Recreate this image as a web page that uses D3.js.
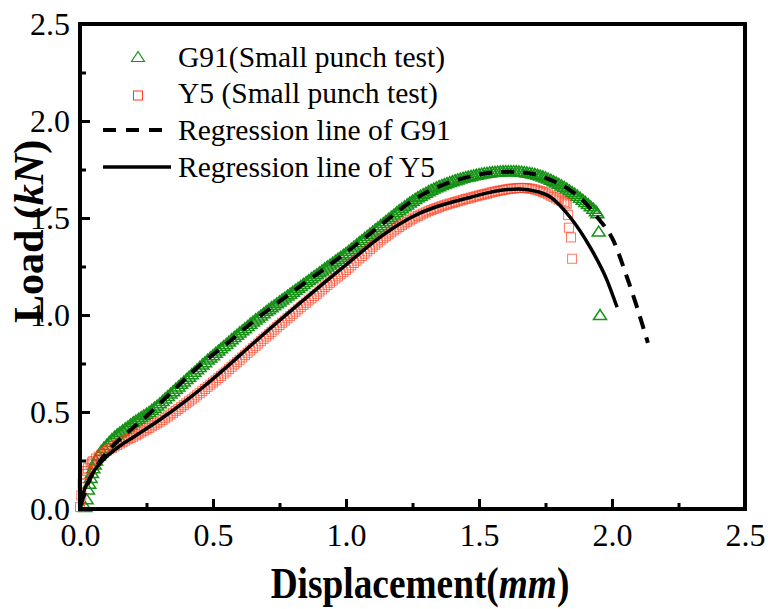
<!DOCTYPE html>
<html>
<head>
<meta charset="utf-8">
<script src="https://cdn.jsdelivr.net/npm/d3@7"></script>
<style>
  html, body { margin: 0; padding: 0; background: #fff; }
  svg { display: block; }
</style>
</head>
<body>
<svg id="chart" width="768" height="609"></svg>
<script>
// ---------------------------------
// data
// ---------------------------------

var xTicks = [0.0, 0.5, 1.0, 1.5, 2.0, 2.5];
var yTicks = [0.0, 0.5, 1.0, 1.5, 2.0, 2.5];
var xMinor = [0.25, 0.75, 1.25, 1.75, 2.25];
var yMinor = [0.25, 0.75, 1.25, 1.75, 2.25];

var legendLabels = ['G91(Small punch test)', 'Y5 (Small punch test)', 'Regression line of G91', 'Regression line of Y5'];

// G91 small punch test, [displacement mm, load kN]
var g91Test = [
  [0.020, 0.010], [0.025, 0.050], [0.030, 0.100], [0.035, 0.130], [0.040, 0.160], [0.045, 0.185],
  [0.050, 0.210], [0.055, 0.230], [0.060, 0.250], [0.070, 0.276], [0.080, 0.300], [0.090, 0.316],
  [0.100, 0.330], [0.110, 0.346], [0.120, 0.360], [0.130, 0.373], [0.140, 0.385], [0.150, 0.395],
  [0.160, 0.405], [0.170, 0.415], [0.180, 0.425], [0.190, 0.436], [0.200, 0.447], [0.210, 0.456],
  [0.220, 0.465], [0.230, 0.474], [0.240, 0.483], [0.250, 0.491], [0.260, 0.500], [0.270, 0.511],
  [0.280, 0.522], [0.290, 0.533], [0.300, 0.545], [0.310, 0.557], [0.320, 0.570], [0.330, 0.582],
  [0.340, 0.595], [0.350, 0.607], [0.360, 0.620], [0.370, 0.632], [0.380, 0.645], [0.390, 0.657],
  [0.400, 0.670], [0.410, 0.682], [0.420, 0.695], [0.430, 0.707], [0.440, 0.720], [0.450, 0.732],
  [0.460, 0.745], [0.470, 0.757], [0.480, 0.770], [0.490, 0.781], [0.500, 0.793], [0.510, 0.805],
  [0.520, 0.817], [0.530, 0.828], [0.540, 0.840], [0.550, 0.851], [0.560, 0.863], [0.570, 0.875],
  [0.580, 0.887], [0.590, 0.898], [0.600, 0.910], [0.610, 0.921], [0.620, 0.932], [0.630, 0.943],
  [0.640, 0.955], [0.650, 0.966], [0.660, 0.977], [0.670, 0.987], [0.680, 0.998], [0.690, 1.009],
  [0.700, 1.020], [0.710, 1.030], [0.720, 1.040], [0.730, 1.050], [0.740, 1.060], [0.750, 1.070],
  [0.760, 1.080], [0.770, 1.090], [0.780, 1.100], [0.790, 1.110], [0.800, 1.120], [0.810, 1.130],
  [0.820, 1.140], [0.830, 1.150], [0.840, 1.160], [0.850, 1.170], [0.860, 1.180], [0.870, 1.190],
  [0.880, 1.200], [0.890, 1.210], [0.900, 1.220], [0.910, 1.230], [0.920, 1.240], [0.930, 1.250],
  [0.940, 1.260], [0.950, 1.270], [0.960, 1.280], [0.970, 1.290], [0.980, 1.300], [0.990, 1.310],
  [1.000, 1.320], [1.010, 1.331], [1.020, 1.342], [1.030, 1.353], [1.040, 1.364], [1.050, 1.375],
  [1.060, 1.386], [1.070, 1.397], [1.080, 1.408], [1.090, 1.419], [1.100, 1.430], [1.110, 1.441],
  [1.120, 1.452], [1.130, 1.463], [1.140, 1.474], [1.150, 1.485], [1.160, 1.496], [1.170, 1.507],
  [1.180, 1.518], [1.190, 1.529], [1.200, 1.540], [1.210, 1.550], [1.220, 1.560], [1.230, 1.570],
  [1.240, 1.580], [1.250, 1.589], [1.260, 1.598], [1.270, 1.607], [1.280, 1.615], [1.290, 1.623],
  [1.300, 1.630], [1.310, 1.638], [1.320, 1.645], [1.330, 1.652], [1.340, 1.658], [1.350, 1.664],
  [1.360, 1.670], [1.370, 1.675], [1.380, 1.680], [1.390, 1.685], [1.400, 1.690], [1.410, 1.695],
  [1.420, 1.699], [1.430, 1.703], [1.440, 1.707], [1.450, 1.711], [1.460, 1.714], [1.470, 1.717],
  [1.480, 1.720], [1.490, 1.723], [1.500, 1.726], [1.510, 1.729], [1.520, 1.731], [1.530, 1.733],
  [1.540, 1.735], [1.550, 1.737], [1.560, 1.738], [1.570, 1.739], [1.580, 1.740], [1.590, 1.741],
  [1.600, 1.742], [1.610, 1.742], [1.620, 1.742], [1.630, 1.742], [1.640, 1.741], [1.650, 1.740],
  [1.660, 1.739], [1.670, 1.737], [1.680, 1.735], [1.690, 1.733], [1.700, 1.730], [1.710, 1.727],
  [1.720, 1.723], [1.730, 1.719], [1.740, 1.714], [1.750, 1.709], [1.760, 1.703], [1.770, 1.697],
  [1.780, 1.690], [1.790, 1.683], [1.800, 1.676], [1.810, 1.668], [1.820, 1.660], [1.830, 1.652],
  [1.840, 1.643], [1.850, 1.634], [1.860, 1.625], [1.870, 1.615], [1.880, 1.605], [1.890, 1.594],
  [1.900, 1.583], [1.910, 1.572], [1.920, 1.560], [1.930, 1.548], [1.940, 1.535], [1.945, 1.525],
  [1.950, 1.430], [1.955, 1.000]
];

// Y5 small punch test
var y5Test = [
  [0.000, 0.010], [0.005, 0.070], [0.010, 0.130], [0.015, 0.158], [0.020, 0.180], [0.025, 0.196],
  [0.030, 0.210], [0.040, 0.230], [0.045, 0.240], [0.050, 0.247], [0.060, 0.260], [0.070, 0.270],
  [0.080, 0.280], [0.090, 0.290], [0.100, 0.300], [0.110, 0.308], [0.120, 0.315], [0.130, 0.323],
  [0.140, 0.330], [0.150, 0.338], [0.160, 0.345], [0.170, 0.352], [0.180, 0.360], [0.190, 0.366],
  [0.200, 0.373], [0.210, 0.380], [0.220, 0.388], [0.230, 0.395], [0.240, 0.403], [0.250, 0.410],
  [0.260, 0.418], [0.270, 0.426], [0.280, 0.434], [0.290, 0.442], [0.300, 0.450], [0.310, 0.459],
  [0.320, 0.468], [0.330, 0.477], [0.340, 0.487], [0.350, 0.496], [0.360, 0.506], [0.370, 0.515],
  [0.380, 0.525], [0.390, 0.535], [0.400, 0.545], [0.410, 0.555], [0.420, 0.565], [0.430, 0.575],
  [0.440, 0.586], [0.450, 0.597], [0.460, 0.608], [0.470, 0.619], [0.480, 0.630], [0.490, 0.641],
  [0.500, 0.652], [0.510, 0.663], [0.520, 0.675], [0.530, 0.686], [0.540, 0.698], [0.550, 0.709],
  [0.560, 0.721], [0.570, 0.733], [0.580, 0.745], [0.590, 0.757], [0.600, 0.769], [0.610, 0.781],
  [0.620, 0.793], [0.630, 0.805], [0.640, 0.817], [0.650, 0.829], [0.660, 0.841], [0.670, 0.853],
  [0.680, 0.865], [0.690, 0.877], [0.700, 0.889], [0.710, 0.901], [0.720, 0.913], [0.730, 0.925],
  [0.740, 0.937], [0.750, 0.948], [0.760, 0.960], [0.770, 0.971], [0.780, 0.983], [0.790, 0.994],
  [0.800, 1.006], [0.810, 1.017], [0.820, 1.029], [0.830, 1.040], [0.840, 1.052], [0.850, 1.063],
  [0.860, 1.075], [0.870, 1.086], [0.880, 1.098], [0.890, 1.109], [0.900, 1.121], [0.910, 1.132],
  [0.920, 1.144], [0.930, 1.155], [0.940, 1.166], [0.950, 1.177], [0.960, 1.188], [0.970, 1.199],
  [0.980, 1.210], [0.990, 1.221], [1.000, 1.232], [1.010, 1.244], [1.020, 1.256], [1.030, 1.268],
  [1.040, 1.280], [1.050, 1.292], [1.060, 1.304], [1.070, 1.316], [1.080, 1.328], [1.090, 1.340],
  [1.100, 1.352], [1.110, 1.363], [1.120, 1.374], [1.130, 1.385], [1.140, 1.396], [1.150, 1.406],
  [1.160, 1.416], [1.170, 1.426], [1.180, 1.436], [1.190, 1.445], [1.200, 1.454], [1.210, 1.463],
  [1.220, 1.472], [1.230, 1.480], [1.240, 1.488], [1.250, 1.496], [1.260, 1.503], [1.270, 1.510],
  [1.280, 1.517], [1.290, 1.523], [1.300, 1.529], [1.310, 1.535], [1.320, 1.541], [1.330, 1.546],
  [1.340, 1.551], [1.350, 1.556], [1.360, 1.561], [1.370, 1.566], [1.380, 1.570], [1.390, 1.574],
  [1.400, 1.578], [1.410, 1.582], [1.420, 1.586], [1.430, 1.590], [1.440, 1.594], [1.450, 1.598],
  [1.460, 1.601], [1.470, 1.605], [1.480, 1.609], [1.490, 1.612], [1.500, 1.616], [1.510, 1.619],
  [1.520, 1.623], [1.530, 1.626], [1.540, 1.630], [1.550, 1.633], [1.560, 1.636], [1.570, 1.639],
  [1.580, 1.642], [1.590, 1.644], [1.600, 1.647], [1.610, 1.649], [1.620, 1.651], [1.630, 1.652],
  [1.640, 1.654], [1.650, 1.655], [1.660, 1.655], [1.670, 1.655], [1.680, 1.654], [1.690, 1.652],
  [1.700, 1.650], [1.710, 1.647], [1.720, 1.643], [1.730, 1.639], [1.740, 1.634], [1.750, 1.628],
  [1.760, 1.622], [1.770, 1.615], [1.780, 1.608], [1.790, 1.601], [1.800, 1.595], [1.810, 1.588],
  [1.820, 1.582], [1.825, 1.576], [1.830, 1.570], [1.835, 1.515], [1.838, 1.450], [1.846, 1.400],
  [1.850, 1.290]
];

// regression line of G91 (dashed)
var g91Fit = [
  [0.003, 0.020], [0.030, 0.130], [0.063, 0.220], [0.113, 0.310], [0.175, 0.390], [0.263, 0.495],
  [0.350, 0.610], [0.450, 0.740], [0.550, 0.850], [0.650, 0.965], [0.750, 1.070], [0.850, 1.170],
  [0.950, 1.270], [1.050, 1.375], [1.150, 1.485], [1.250, 1.590], [1.350, 1.663], [1.450, 1.708],
  [1.550, 1.734], [1.617, 1.738], [1.700, 1.728], [1.780, 1.690], [1.842, 1.644], [1.900, 1.578],
  [1.944, 1.505], [2.004, 1.387], [2.056, 1.196], [2.094, 1.040], [2.135, 0.856]
];

// regression line of Y5 (solid)
var y5Fit = [
  [0.000, 0.000], [0.010, 0.070], [0.030, 0.140], [0.050, 0.190], [0.100, 0.270], [0.150, 0.325],
  [0.200, 0.370], [0.300, 0.460], [0.400, 0.560], [0.460, 0.625], [0.550, 0.730], [0.640, 0.840],
  [0.740, 0.960], [0.830, 1.065], [0.930, 1.180], [1.015, 1.275], [1.100, 1.372], [1.200, 1.468],
  [1.280, 1.526], [1.340, 1.558], [1.466, 1.606], [1.560, 1.638], [1.650, 1.650], [1.720, 1.636],
  [1.767, 1.610], [1.842, 1.505], [1.917, 1.351], [1.981, 1.180], [2.019, 1.040]
];

var GREEN = '#169216';
var RED = '#ff3c1c';
var SERIF = '"Liberation Serif", "Times New Roman", serif';

var svg = d3.select('#chart');

var x = d3.scaleLinear().domain([0, 2.5]).range([80, 745]);
var y = d3.scaleLinear().domain([0, 2.5]).range([509, 24]);

var triangle = 'M0,-5.5L6.5,4.5L-6.5,4.5Z';

// ---------
// the marks
// ---------

var marks = svg.append('g').attr('class', 'marks');

marks.append('g').selectAll('path')
  .data(g91Test)
  .enter().append('path')
  .attr('d', triangle)
  .attr('transform', function (d) {
    return 'translate(' + x(d[0]) + ',' + y(d[1]) + ')';
  })
  .attr('fill', 'none')
  .attr('stroke', GREEN)
  .attr('stroke-width', 1.5);

marks.append('g').selectAll('rect')
  .data(y5Test)
  .enter().append('rect')
  .attr('x', function (d) { return x(d[0]) - 4.5; })
  .attr('y', function (d) { return y(d[1]) - 4.5; })
  .attr('width', 9)
  .attr('height', 9)
  .attr('fill', 'none')
  .attr('stroke', RED)
  .attr('stroke-opacity', 0.7)
  .attr('stroke-width', 1);

var line = d3.line()
  .x(function (d) { return x(d[0]); })
  .y(function (d) { return y(d[1]); })
  .curve(d3.curveMonotoneX);

marks.append('path')
  .attr('d', line(g91Fit))
  .attr('fill', 'none')
  .attr('stroke', '#000')
  .attr('stroke-width', 4)
  .attr('stroke-dasharray', '13,9');

marks.append('path')
  .attr('d', line(y5Fit))
  .attr('fill', 'none')
  .attr('stroke', '#000')
  .attr('stroke-width', 3.5);

// ----
// axes
// ----

var styleAxis = function (g) {
  g.select('.domain').remove();
  g.selectAll('.tick line').attr('stroke', '#000').attr('stroke-width', 3);
  g.selectAll('.tick text')
    .attr('fill', '#000')
    .style('font-family', SERIF)
    .style('font-size', '32px');
};

svg.append('g')
  .attr('transform', 'translate(0,509)')
  .call(d3.axisBottom(x).tickValues(xMinor).tickSize(-6).tickSizeOuter(0).tickFormat(''))
  .call(styleAxis);

svg.append('g')
  .attr('transform', 'translate(0,509)')
  .call(d3.axisBottom(x).tickValues(xTicks).tickSize(-10).tickSizeOuter(0).tickPadding(14).tickFormat(d3.format('.1f')))
  .call(styleAxis)
  .selectAll('.tick text').attr('dy', '0.71em');

svg.append('g')
  .attr('transform', 'translate(80,0)')
  .call(d3.axisLeft(y).tickValues(yMinor).tickSize(-6).tickSizeOuter(0).tickFormat(''))
  .call(styleAxis);

svg.append('g')
  .attr('transform', 'translate(80,0)')
  .call(d3.axisLeft(y).tickValues(yTicks).tickSize(-10).tickSizeOuter(0).tickPadding(10).tickFormat(d3.format('.1f')))
  .call(styleAxis)
  .selectAll('.tick text').attr('dy', '0.34em');

// frame
svg.append('rect')
  .attr('x', x(0))
  .attr('y', y(2.5))
  .attr('width', x(2.5) - x(0))
  .attr('height', y(0) - y(2.5))
  .attr('fill', 'none')
  .attr('stroke', '#000')
  .attr('stroke-width', 4);

// -----------
// axis titles
// -----------

var xTitle = svg.append('text')
  .attr('transform', 'translate(420,598) scale(0.83,1)')
  .attr('text-anchor', 'middle')
  .style('font-family', SERIF)
  .style('font-size', '45px')
  .style('font-weight', 'bold');
xTitle.append('tspan').text('Displacement(');
xTitle.append('tspan').style('font-style', 'italic').text('mm');
xTitle.append('tspan').text(')');

var yTitle = svg.append('text')
  .attr('transform', 'translate(43,323) rotate(-90)')
  .attr('text-anchor', 'start')
  .style('font-family', SERIF)
  .style('font-size', '42px')
  .style('font-weight', 'bold');
yTitle.append('tspan').text('Load (');
yTitle.append('tspan').style('font-style', 'italic').text('kN');
yTitle.append('tspan').text(')');

// ------
// legend
// ------

var legend = svg.append('g').attr('class', 'legend');
var rowY = [66.5, 103, 140, 176.5];

legend.append('path')
  .attr('d', triangle)
  .attr('transform', 'translate(138,57)')
  .attr('fill', 'none')
  .attr('stroke', GREEN)
  .attr('stroke-width', 1.2);

legend.append('rect')
  .attr('x', 133.5).attr('y', 91)
  .attr('width', 9).attr('height', 9)
  .attr('fill', 'none')
  .attr('stroke', RED)
  .attr('stroke-width', 1);

legend.append('line')
  .attr('x1', 103).attr('x2', 171)
  .attr('y1', 130).attr('y2', 130)
  .attr('stroke', '#000')
  .attr('stroke-width', 4)
  .attr('stroke-dasharray', '13,10');

legend.append('line')
  .attr('x1', 103).attr('x2', 171)
  .attr('y1', 167).attr('y2', 167)
  .attr('stroke', '#000')
  .attr('stroke-width', 3.5);

legend.selectAll('text.label')
  .data(legendLabels)
  .enter().append('text')
  .attr('class', 'label')
  .attr('x', 178)
  .attr('y', function (d, i) { return rowY[i]; })
  .style('font-family', SERIF)
  .style('font-size', '29.5px')
  .text(function (d) { return d; });
</script>
</body>
</html>
